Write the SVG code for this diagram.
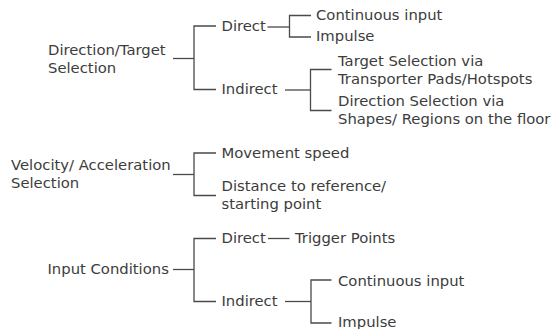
<svg xmlns="http://www.w3.org/2000/svg" width="556" height="329" viewBox="0 0 556 329">
<style>
text{font-family:"DejaVu Sans",Verdana,sans-serif;font-size:14.8px;fill:#3c3c3c}
.c line,.c polyline{stroke:#4a4a4a;stroke-width:1.3;fill:none}
</style>
<rect width="556" height="329" fill="#fff"/>
<g id="n-direction-target"><text x="48" y="55">Direction/Target</text><text x="48" y="73">Selection</text></g>
<g id="n-direct1"><text x="221.5" y="30.5">Direct</text></g>
<g id="n-continuous1"><text x="316" y="19.5">Continuous input</text></g>
<g id="n-impulse1"><text x="316" y="41">Impulse</text></g>
<g id="n-indirect1"><text x="221.5" y="93.5">Indirect</text></g>
<g id="n-target-sel"><text x="338" y="65.5">Target Selection via</text><text x="338" y="83.5">Transporter Pads/Hotspots</text></g>
<g id="n-direction-sel"><text x="338" y="105.5">Direction Selection via</text><text x="338" y="123.5">Shapes/ Regions on the floor</text></g>
<g id="n-velocity"><text x="11" y="170">Velocity/ Acceleration</text><text x="11" y="188">Selection</text></g>
<g id="n-movement"><text x="221.5" y="158">Movement speed</text></g>
<g id="n-distance"><text x="221.5" y="191">Distance to reference/</text><text x="221.5" y="208.5">starting point</text></g>
<g id="n-input"><text x="47.5" y="273.5">Input Conditions</text></g>
<g id="n-direct2"><text x="221.5" y="242.5">Direct</text></g>
<g id="n-trigger"><text x="295" y="242.5">Trigger Points</text></g>
<g id="n-indirect2"><text x="221.5" y="305.5">Indirect</text></g>
<g id="n-continuous2"><text x="338" y="285.5">Continuous input</text></g>
<g id="n-impulse2"><text x="338" y="326.5">Impulse</text></g>
<g id="connectors" class="c">
<line x1="173" y1="58.5" x2="194" y2="58.5"/>
<polyline points="216,26 194,26 194,89.5 216,89.5"/>
<line x1="267.5" y1="27" x2="289.5" y2="27"/>
<polyline points="311,15.5 289.5,15.5 289.5,37 311,37"/>
<line x1="285" y1="90" x2="310.5" y2="90"/>
<polyline points="331.5,69.5 310.5,69.5 310.5,110.5 331.5,110.5"/>
<line x1="173" y1="174.5" x2="194" y2="174.5"/>
<polyline points="216,153 194,153 194,195.5 216,195.5"/>
<line x1="173" y1="269.5" x2="194" y2="269.5"/>
<polyline points="216,238.5 194,238.5 194,301.5 216,301.5"/>
<line x1="268" y1="238.5" x2="289.5" y2="238.5"/>
<line x1="285" y1="301.5" x2="311" y2="301.5"/>
<polyline points="331.5,280 311,280 311,323 331.5,323"/>
</g>
</svg>
